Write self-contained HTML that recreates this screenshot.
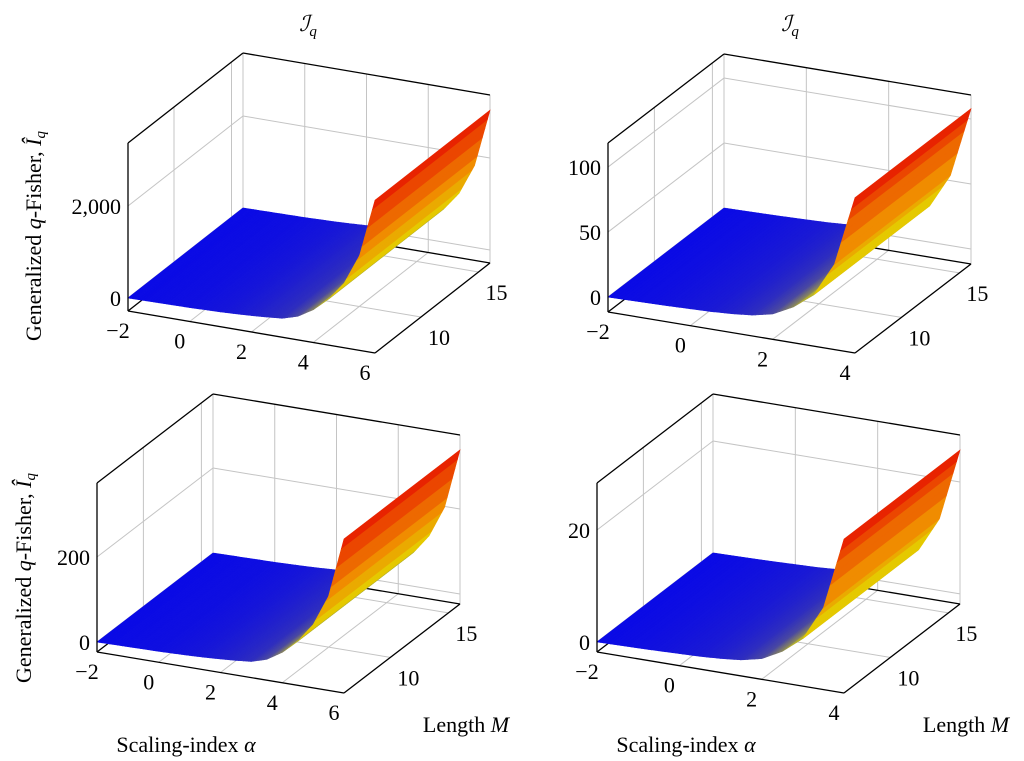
<!DOCTYPE html>
<html><head><meta charset="utf-8"><style>
html,body{margin:0;padding:0;background:#fff;}
svg{display:block;font-family:"Liberation Serif","DejaVu Serif",serif;}
</style></head><body>
<svg id="fig" width="1024" height="761" viewBox="0 0 1024 761">
<g id="root"></g>
<text x="308" y="31" font-size="22" text-anchor="middle" font-style="italic">ℐ<tspan font-size="15" dy="5">q</tspan></text>
<text x="790" y="31" font-size="22" text-anchor="middle" font-style="italic">ℐ<tspan font-size="15" dy="5">q</tspan></text>
<text transform="translate(41,236) rotate(-90)" font-size="22" text-anchor="middle">Generalized <tspan font-style="italic">q</tspan>-Fisher, <tspan font-style="italic">Î</tspan><tspan font-size="15" font-style="italic" dy="4">q</tspan></text>
<text transform="translate(31,578) rotate(-90)" font-size="22" text-anchor="middle">Generalized <tspan font-style="italic">q</tspan>-Fisher, <tspan font-style="italic">Î</tspan><tspan font-size="15" font-style="italic" dy="4">q</tspan></text>
<text x="466" y="732" font-size="22" text-anchor="middle">Length <tspan font-style="italic">M</tspan></text>
<text x="966" y="732" font-size="22" text-anchor="middle">Length <tspan font-style="italic">M</tspan></text>
<text x="186" y="752" font-size="22" text-anchor="middle">Scaling-index <tspan font-style="italic">α</tspan></text>
<text x="686" y="752" font-size="22" text-anchor="middle">Scaling-index <tspan font-style="italic">α</tspan></text>
</svg>
<script>
// data
const alphaWide = [-2,-1.5,-1,-0.5,0,0.5,1,1.5,2,2.5,3,3.5,4,4.5,5,5.5,6];
const alphaNarrow = [-2,-1.5,-1,-0.5,0,0.5,1,1.5,2,2.5,3,3.5,4];
const valuesTL = [0,5,10,15,20,30,40,55,75,100,130,230,430,720,1120,1780,3040];
const valuesTR = [0,0.3,0.6,1,1.5,2,3,4.5,8,16,28,54,108];
const valuesBL = [0,0.6,1.1,1.7,2.2,3.3,4.5,6.1,8.4,11,14.5,25.6,48,80,125,198,339];
const valuesBR = [0,0.07,0.14,0.24,0.36,0.48,0.71,1.07,1.9,3.8,6.7,12.8,25.7];
const zTicksTL = [0,2000];
const zTicksTR = [0,50,100];
const zTicksBL = [0,200];
const zTicksBR = [0,20];
const aTicksWide = [-2,0,2,4,6];
const aTicksNarrow = [-2,0,2,4];
const mTicks = [10,15];
const zLabelsTL = ["0","2,000"];
const zLabelsTR = ["0","50","100"];
const zLabelsBL = ["0","200"];
const zLabelsBR = ["0","20"];

const NS="http://www.w3.org/2000/svg";
const root=document.getElementById('root');
function mk(tag,attrs,parent){const e=document.createElementNS(NS,tag);for(const k in attrs)e.setAttribute(k,attrs[k]);(parent||root).appendChild(e);return e;}

function hot(t){
  t=Math.max(0,Math.min(1,t));
  if(t>0.2){t=0.2+Math.floor((t-0.2)/0.8*6+0.5)/6*0.8;}
  const stops=[[0,[10,10,230]],[0.25,[225,220,0]],[0.6,[240,140,0]],[1,[232,35,0]]];
  for(let i=0;i<3;i++){const a=stops[i],b=stops[i+1];if(t<=b[0]){const u=(t-a[0])/(b[0]-a[0]);
    return 'rgb('+a[1].map((c,j)=>Math.round(c+(b[1][j]-c)*u)).join(',')+')';}}
  return 'rgb(232,35,0)';
}

function panel(cfg){
  const g=mk('g',{});
  
  
  const [amin,amax]=cfg.arange,[mmin,mmax]=[6,16],[zmin,zmax]=cfg.zrange;
  const P=(a,m,z)=>{const fx=(a-amin)/(amax-amin),fm=(m-mmin)/(mmax-mmin),fz=(z-zmin)/(zmax-zmin);
    return [cfg.O[0]+fx*cfg.ex[0]+fm*cfg.eM[0]+fz*cfg.ez[0], cfg.O[1]+fx*cfg.ex[1]+fm*cfg.eM[1]+fz*cfg.ez[1]];};
  const line=(p,q,col,w,name)=>{const l=mk('line',{x1:p[0],y1:p[1],x2:q[0],y2:q[1],stroke:col,'stroke-width':w},g);
    
    return l;};
  const GR='#c4c4c4';
  cfg.aticks.forEach(a=>line(P(a,mmax,zmin),P(a,mmax,zmax),GR,1,'grid-line'));
  cfg.zticks.forEach(z=>line(P(amin,mmax,z),P(amax,mmax,z),GR,1,'grid-line'));
  mTicks.forEach(m=>line(P(amin,m,zmin),P(amin,m,zmax),GR,1,'grid-line'));
  cfg.zticks.forEach(z=>line(P(amin,mmin,z),P(amin,mmax,z),GR,1,'grid-line'));
  cfg.aticks.forEach(a=>line(P(a,mmin,zmin),P(a,mmax,zmin),GR,1,'grid-line'));
  mTicks.forEach(m=>line(P(amin,m,zmin),P(amax,m,zmin),GR,1,'grid-line'));
  line(P(amax,mmax,zmin),P(amax,mmax,zmax),GR,1,'box-edge');
  line(P(amin,mmax,zmin),P(amin,mmax,zmax),GR,1,'box-edge');
  line(P(amin,mmin,zmin),P(amin,mmax,zmin),'#000',1.3,'box-edge');
  line(P(amin,mmax,zmin),P(amax,mmax,zmin),'#000',1.3,'box-edge');
  const A=cfg.alpha,V=cfg.values;const vmin=Math.min(...V),vmax=Math.max(...V);
  const sub=6;
  for(let i=0;i<A.length-1;i++){
    for(let s=0;s<sub;s++){
      const a0=A[i]+(A[i+1]-A[i])*s/sub,a1=A[i]+(A[i+1]-A[i])*(s+1)/sub;
      const z0=V[i]+(V[i+1]-V[i])*s/sub,z1=V[i]+(V[i+1]-V[i])*(s+1)/sub;
      const pts=[P(a0,mmin,z0),P(a1,mmin,z1),P(a1,mmax,z1),P(a0,mmax,z0)];
      const c=hot(((z0+z1)/2-vmin)/(vmax-vmin));
      const q=mk('polygon',{points:pts.map(p=>p.join(',')).join(' '),fill:c,stroke:c,'stroke-width':0.6},g);
      
      
    }
  }
  line(P(amin,mmin,zmin),P(amax,mmin,zmin),'#000',1.3,'x-axis-line');
  line(P(amax,mmin,zmin),P(amax,mmax,zmin),'#000',1.3,'m-axis-line');
  line(P(amin,mmin,zmin),P(amin,mmin,zmax),'#000',1.3,'z-axis-line');
  line(P(amin,mmin,zmax),P(amin,mmax,zmax),'#000',1.3,'box-edge');
  line(P(amin,mmax,zmax),P(amax,mmax,zmax),'#000',1.3,'box-edge');
  cfg.aticks.forEach(a=>{const p=P(a,mmin,zmin);
    const t=mk('text',{x:p[0]-10,y:p[1]+27,'font-size':22,'text-anchor':'middle'},g);
    t.textContent=a<0?'\u2212'+(-a):String(a);
    
    });
  mTicks.forEach(m=>{const p=P(amax,m,zmin);
    const t=mk('text',{x:p[0]+18,y:p[1]+28,'font-size':22,'text-anchor':'middle'},g);
    t.textContent=String(m);
    
    });
  cfg.zticks.forEach((z,i)=>{const p=P(amin,mmin,z);
    const t=mk('text',{x:p[0]-7,y:p[1]+8,'font-size':22,'text-anchor':'end'},g);
    t.textContent=cfg.zlabels[i];
    
    });
}

panel({name:'panel-top-left',O:[128,311],ex:[247,42],eM:[115,-90],ez:[0,-168],arange:[-2,6],zrange:[-283,3370],
  aticks:aTicksWide,zticks:zTicksTL,zlabels:zLabelsTL,alpha:alphaWide,values:valuesTL});
panel({name:'panel-top-right',O:[608,312],ex:[247,41],eM:[116,-89],ez:[0,-169],arange:[-2,4],zrange:[-11.5,118.5],
  aticks:aTicksNarrow,zticks:zTicksTR,zlabels:zLabelsTR,alpha:alphaNarrow,values:valuesTR});
panel({name:'panel-bottom-left',O:[97,652],ex:[247,41],eM:[116,-89],ez:[0,-169],arange:[-2,6],zrange:[-23.5,374],
  aticks:aTicksWide,zticks:zTicksBL,zlabels:zLabelsBL,alpha:alphaWide,values:valuesBL});
panel({name:'panel-bottom-right',O:[597,652],ex:[247,41],eM:[116,-89],ez:[0,-169],arange:[-2,4],zrange:[-1.8,28.4],
  aticks:aTicksNarrow,zticks:zTicksBR,zlabels:zLabelsBR,alpha:alphaNarrow,values:valuesBR});
</script>
</body></html>
